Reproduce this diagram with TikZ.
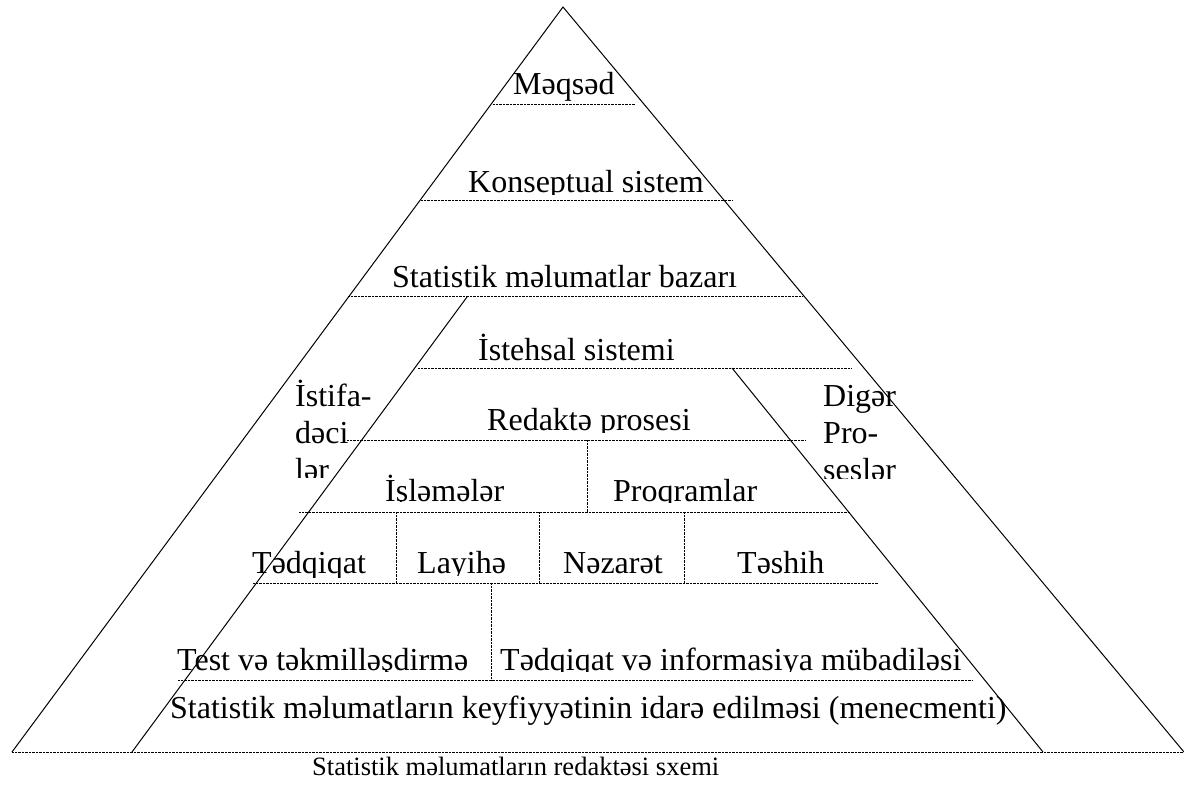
\documentclass[tikz,border=0pt]{standalone}
\usepackage{fontspec}
\setmainfont{Liberation Serif}
\usetikzlibrary{positioning}
\definecolor{ink}{HTML}{000000}

\begin{document}
\begin{tikzpicture}[x=1pt, y=-1pt, text=ink,
    lbl/.style={anchor=base west, inner sep=0pt, font=\fontsize{32}{37}\selectfont},
    legend/.style={anchor=base west, inner sep=0pt, font=\fontsize{26.5}{30}\selectfont},
    side/.style={line width=1pt, draw=ink},
    tier/.style={line width=0.9pt, draw=ink, dash pattern=on 0.7pt off 0.7pt}]
  \useasboundingbox (0,0) rectangle (1184,785);

  % ---------------- outer and inner triangle sides
  \coordinate (top) at (563,7);
  \coordinate (bl) at (12,752);
  \coordinate (br) at (1184,752);
  \coordinate (il) at (467,297);
  \coordinate (ilb) at (132,752);
  \coordinate (ir) at (732,368);
  \coordinate (irb) at (1043,752);
  \draw[side] (bl) -- (top) -- (br);
  \draw[side] (il) -- (ilb);
  \draw[side] (ir) -- (irb);

  % ---------------- tier lines
  \foreach \y/\a/\b in {104/493/635, 200/421/732, 296/348/803, 368/418/851, 440/347/805, 512/299/850, 583/253/878, 680/178/972}
    \draw[tier] (\a,\y) -- (\b,\y);
  \draw[tier] (bl) -- (br);
  % ---------------- cell walls
  \foreach \x/\a/\b in {587/440/512, 396/512/583, 539/512/583, 684/512/583, 491/583/680}
    \draw[tier] (\x,\a) -- (\x,\b);

  % ---------------- labels, cut off at the edges of their boxes
  \foreach \name/\x/\y/\r/\b/\lab in {
      aim/513/94/1184/103/{Məqsəd},
      concept/468/192/1184/194/{Konseptual sistem},
      market/392/287/1184/288/{Statistik məlumatlar bazarı},
      prod/478/360/1184/366/{İstehsal sistemi},
      users/295/406/1184/477/{\vtop{\hbox{İstifa-}\hbox{dəci}\hbox{lər}}},
      edit/487/430/1184/432/{Redaktə prosesi},
      other/823/406/1184/478/{\vtop{\hbox{Digər}\hbox{Pro-}\hbox{seslər}}},
      work/385/501/1184/501.5/{İşləmələr},
      progs/613/501/1184/502/{Proqramlar},
      study/252/573/1184/577/{Tədqiqat},
      design/417/573/1184/575/{Layihə},
      control/563/573/1184/577/{Nəzarət},
      fix/737/573/1184/577/{Təshih},
      test/177/670/467/671.5/{Test və təkmilləşdirmə},
      exchange/500/670/1184/671.5/{Tədqiqat və informasiya mübadiləsi},
      quality/170/718/1184/750/{Statistik məlumatların keyfiyyətinin idarə edilməsi (menecmenti)}} {
    \begin{scope}
      \clip (\x-4,\y-40) rectangle (\r,\b);
      \node[lbl] (\name) at (\x,\y) {\lab};
    \end{scope}
  }
  \node[legend] (title) at (312,775) {Statistik məlumatların redaktəsi sxemi};
\end{tikzpicture}
\end{document}
